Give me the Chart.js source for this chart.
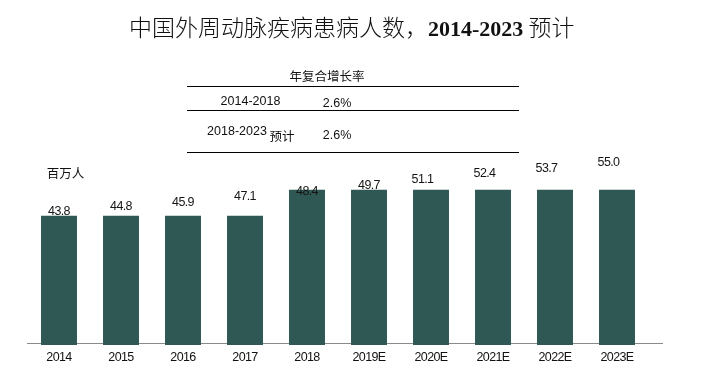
<!DOCTYPE html>
<html>
<head>
<meta charset="utf-8">
<script src="https://cdn.jsdelivr.net/npm/chart.js@4.4.1/dist/chart.umd.min.js"></script>
<style>
html,body{margin:0;padding:0;background:#fff;}
#wrap{position:relative;width:708px;height:382px;overflow:hidden;background:#fff;}
#c{position:absolute;left:0;top:0;}
.abs{position:absolute;white-space:nowrap;color:#111;}
.ctr{transform:translate(-50%,-50%);line-height:1;}
.cjk{font-family:'Noto Sans CJK SC','Noto Sans CJK JP',sans-serif;}
.lat{font-family:'Liberation Sans',Arial,sans-serif;}
.rule{position:absolute;height:0;border-top:1px solid #000;}
</style>
</head>
<body>
<div id="wrap">
  <canvas id="c" width="708" height="382"></canvas>
</div>
<script>
// ---- data ----
const years = ['2014','2015','2016','2017','2018','2019E','2020E','2021E','2022E','2023E'];
const patients = [43.8, 44.8, 45.9, 47.1, 48.4, 49.7, 51.1, 52.4, 53.7, 55.0];   // 百万人 (labels)
// bar heights as drawn in the reference (its bars are stepped: two levels)
const barLevels = [44.8, 44.8, 44.8, 44.8, 50.8, 50.8, 50.8, 50.8, 50.8, 50.8];
const titleMain = '中国外周动脉疾病患病人数，';
const titleYears = '2014-2023';
const titleTail = ' 预计';
const cagrHeader = '年复合增长率';
const cagrPeriods = ['2014-2018', '2018-2023'];
const cagrNotes = ['', '预计'];
const cagrRates = ['2.6%', '2.6%'];
const unitLabel = '百万人';

// ---- font availability ----
function hasFont(f){
  const c = document.createElement('canvas').getContext('2d');
  c.font = '40px monospace';
  const a = c.measureText('2014-2023E abc').width;
  c.font = "40px '" + f + "', monospace";
  return c.measureText('2014-2023E abc').width !== a;
}
const NARROW = hasFont('Liberation Sans Narrow');
const numFamily = NARROW ? "'Liberation Sans Narrow'" : "'Liberation Sans'";
const numSize = NARROW ? 14 : 12.5;
const numSpacing = NARROW ? '0px' : '-0.6px';

// ---- HTML text (title, CAGR table, unit) ----
const wrap = document.getElementById('wrap');
function add(html, cls, style){
  const d = document.createElement('div');
  d.className = cls; d.innerHTML = html; d.setAttribute('style', style);
  wrap.appendChild(d); return d;
}
add("<span style=\"font-weight:300;\">" + titleMain + "</span><b style=\"font-family:'Liberation Serif','Times New Roman',serif;font-size:22px;\">" + titleYears + "</b><span style=\"font-weight:300;\">" + titleTail + "</span>",
    'abs cjk', 'left:129px;top:15px;font-size:23px;line-height:23px;color:#111;');
add(cagrHeader, 'abs ctr cjk', 'left:327px;top:76px;font-size:12.5px;');
[86, 110, 152].forEach(t => add('', 'rule', 'left:187px;top:' + t + 'px;width:332px;'));
const rowY = [101, 130.5];
const rateY = [103, 135];
cagrPeriods.forEach((p, i) => {
  add(p, 'abs ctr lat', 'left:' + (i === 0 ? 250.5 : 237) + 'px;top:' + rowY[i] + 'px;font-size:12.5px;');
  if (cagrNotes[i]) add(cagrNotes[i], 'abs ctr cjk', 'left:282px;top:136px;font-size:12.5px;');
  add(cagrRates[i], 'abs ctr lat', 'left:337px;top:' + rateY[i] + 'px;font-size:12.5px;');
});
add(unitLabel, 'abs ctr cjk', 'left:65.5px;top:173px;font-size:12.5px;');

// ---- chart ----
const deco = {
  id: 'deco',
  beforeDraw(chart){ chart.ctx.letterSpacing = numSpacing; },
  beforeDatasetsDraw(chart){
    const {ctx, chartArea} = chart;
    const yb = Math.round(chartArea.bottom) - 1.5;
    ctx.save();
    ctx.strokeStyle = '#8a8a8a'; ctx.lineWidth = 1;
    ctx.beginPath(); ctx.moveTo(chartArea.left - 1, yb); ctx.lineTo(chartArea.right + 15, yb); ctx.stroke();
    ctx.restore();
  },
  afterDatasetsDraw(chart){
    const {ctx} = chart; const y = chart.scales.y;
    const meta = chart.getDatasetMeta(0);
    ctx.save();
    ctx.letterSpacing = numSpacing;
    ctx.font = numSize + 'px ' + numFamily;
    ctx.fillStyle = '#151515'; ctx.textAlign = 'center'; ctx.textBaseline = 'middle';
    patients.forEach((v, i) => {
      const x = meta.data[i].x + (i >= 6 ? -8.5 : 0);
      ctx.fillText(v.toFixed(1), x, y.getPixelForValue(v) - 9);
    });
    ctx.restore();
  }
};

new Chart(document.getElementById('c'), {
  type: 'bar',
  data: {
    labels: years,
    datasets: [{
      data: barLevels,
      backgroundColor: '#2f5855',
      borderWidth: 0,
      categoryPercentage: 1.0,
      barPercentage: 0.58
    }]
  },
  options: {
    responsive: false,
    animation: false,
    layout: { padding: { left: 28, right: 60, top: 150, bottom: 12 } },
    plugins: { legend: { display: false }, tooltip: { enabled: false }, title: { display: false } },
    scales: {
      x: {
        grid: { display: false, drawTicks: false },
        border: { display: false },
        ticks: { color: '#111', font: { family: numFamily, size: numSize }, padding: 5, maxRotation: 0, autoSkip: false }
      },
      y: { display: false, min: 15, max: 60 }
    }
  },
  plugins: [deco]
});
</script>
</body>
</html>
